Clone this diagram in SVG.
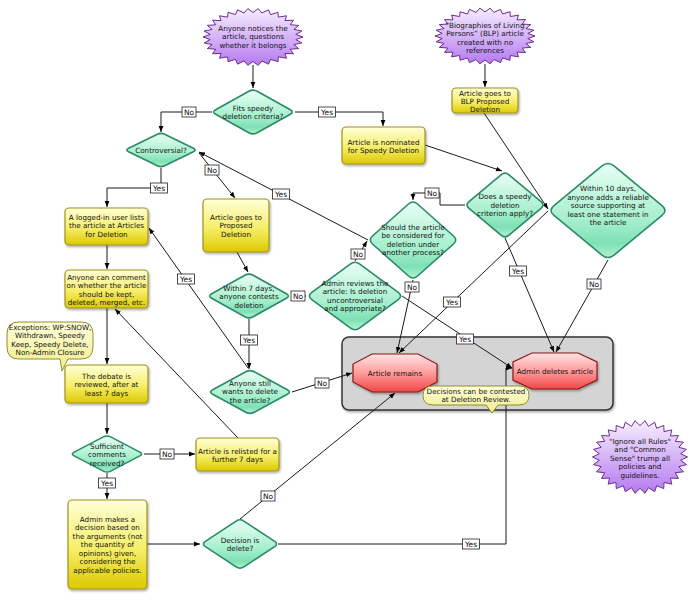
<svg xmlns="http://www.w3.org/2000/svg" xmlns:xlink="http://www.w3.org/1999/xlink" width="697" height="600" viewBox="0 0 697 600">
<style>
text{font-family:"DejaVu Sans","Liberation Sans",sans-serif;font-size:7.2px;fill:#111;text-anchor:middle}
.lbl text{font-size:7.5px}
.lbl rect{fill:#fff;stroke:#222;stroke-width:0.8}
.con path{fill:none;stroke:#1a1a1a;stroke-width:1}
.arr{marker-end:url(#arr)}
.box{fill:url(#gBox);stroke:#9d9420;stroke-width:1.2;filter:url(#sh)}
.dia{fill:url(#gDia);stroke:#2a8a66;stroke-width:1.6}
.star{fill:url(#gStar);stroke:#6a2d91;stroke-width:1}
.oct{fill:url(#gOct);stroke:#8b1a1a;stroke-width:1.2;filter:url(#sh)}
.bub{fill:url(#gBub);stroke:#8f8f2b;stroke-width:1}
</style>
<defs>
<linearGradient id="gBox" x1="0" y1="0" x2="0" y2="1"><stop offset="0" stop-color="#ffffd8"/><stop offset="0.55" stop-color="#f6ee6a"/><stop offset="1" stop-color="#ddc900"/></linearGradient>
<linearGradient id="gDia" x1="0" y1="0" x2="0" y2="1"><stop offset="0" stop-color="#e8fff4"/><stop offset="0.6" stop-color="#a6efcd"/><stop offset="0.85" stop-color="#7fe0b5"/><stop offset="1" stop-color="#b4f2d6"/></linearGradient>
<linearGradient id="gStar" x1="0" y1="0" x2="0" y2="1"><stop offset="0" stop-color="#f6edff"/><stop offset="1" stop-color="#b57af0"/></linearGradient>
<linearGradient id="gOct" x1="0" y1="0" x2="0" y2="1"><stop offset="0" stop-color="#ffe4e4"/><stop offset="0.5" stop-color="#ff9c9c"/><stop offset="1" stop-color="#f04646"/></linearGradient>
<linearGradient id="gBub" x1="0" y1="0" x2="0" y2="1"><stop offset="0" stop-color="#ffffdc"/><stop offset="1" stop-color="#f0ec8c"/></linearGradient>
<filter id="sh" x="-10%" y="-10%" width="130%" height="140%"><feDropShadow dx="1" dy="1.5" stdDeviation="1" flood-color="#000" flood-opacity="0.35"/></filter>
<marker id="arr" viewBox="0 0 10 10" refX="10" refY="5" markerWidth="6" markerHeight="6" orient="auto" markerUnits="userSpaceOnUse"><path d="M0,1 L10,5 L0,9 z" fill="#000"/></marker>
<path id="dia" vector-effect="non-scaling-stroke" d="M-0.1,-0.9 Q0,-1 0.1,-0.9 L0.9,-0.1 Q1,0 0.9,0.1 L0.1,0.9 Q0,1 -0.1,0.9 L-0.9,0.1 Q-1,0 -0.9,-0.1 Z"/>
<polygon id="star" vector-effect="non-scaling-stroke" points="50,0 42.8,4.5 48.9,10.4 40.9,13.3 45.7,20.3 37.2,21.5 40.5,29.4 32,28.8 33.5,37.2 25.3,34.8 25,43.3 17.5,39.3 15.5,47.6 8.9,42.1 5.2,49.7 0,43 -5.2,49.7 -8.9,42.1 -15.5,47.6 -17.5,39.3 -25,43.3 -25.3,34.8 -33.5,37.2 -32,28.8 -40.5,29.4 -37.2,21.5 -45.7,20.3 -40.9,13.3 -48.9,10.4 -42.8,4.5 -50,0 -42.8,-4.5 -48.9,-10.4 -40.9,-13.3 -45.7,-20.3 -37.2,-21.5 -40.5,-29.4 -32,-28.8 -33.5,-37.2 -25.3,-34.8 -25,-43.3 -17.5,-39.3 -15.5,-47.6 -8.9,-42.1 -5.2,-49.7 0,-43 5.2,-49.7 8.9,-42.1 15.5,-47.6 17.5,-39.3 25,-43.3 25.3,-34.8 33.5,-37.2 32,-28.8 40.5,-29.4 37.2,-21.5 45.7,-20.3 40.9,-13.3 48.9,-10.4 42.8,-4.5"/>
</defs>
<rect width="697" height="600" fill="#fff"/>

<g id="outcome-area">
<rect x="342" y="337" width="271" height="73" rx="7" fill="#d4d4d4" stroke="#333" stroke-width="1.5" filter="url(#sh)"/>
</g>

<g id="connectors" class="con">
<path class="arr" d="M253,65 L253,88"/>
<path class="arr" d="M212,112 L161,112 L161,132"/>
<path class="arr" d="M295,112 L383,112 L383,126"/>
<path class="arr" d="M161,168 L161,188 L107,188 L107,207"/>
<path class="arr" d="M199,153 L235,198"/>
<path class="arr" d="M368,240 L199,152"/>
<path class="arr" d="M107,245 L107,269"/>
<path class="arr" d="M107,308 L107,364"/>
<path class="arr" d="M107,403 L107,434"/>
<path class="arr" d="M144,454 L195,454"/>
<path class="arr" d="M238,438 L115,309"/>
<path class="arr" d="M107,473 L107,499"/>
<path class="arr" d="M147,544 L200,544"/>
<path class="arr" d="M240,519 L395,393"/>
<path class="arr" d="M278,544 L506,544 L506,368 L512,368"/>
<path class="arr" d="M237,252 L248,272"/>
<path class="arr" d="M291,296 L306,296"/>
<path class="arr" d="M249,319 L249,369"/>
<path class="arr" d="M248,368 L149,228"/>
<path class="arr" d="M292,392 L352,373"/>
<path class="arr" d="M355,261 L367,241"/>
<path class="arr" d="M402,296 L512,368"/>
<path class="arr" d="M413,280 L397,353"/>
<path class="arr" d="M465,205 L440,205 L440,193 L413,193 L413,200"/>
<path class="arr" d="M485,64 L485,87"/>
<path class="arr" d="M484,113 L548,209"/>
<path class="arr" d="M425,145 L502,171"/>
<path class="arr" d="M505,238 L554,352"/>
<path class="arr" d="M608,260 L556,352"/>
<path class="arr" d="M548,211 L399,353"/>
<g class="lbl">
<rect x="182" y="107" width="14" height="10"/><text x="189" y="114.7">No</text>
<rect x="318.5" y="107" width="17" height="10"/><text x="327" y="114.7">Yes</text>
<rect x="150.5" y="183" width="17" height="10"/><text x="159" y="190.7">Yes</text>
<rect x="205" y="165" width="14" height="10"/><text x="212" y="172.7">No</text>
<rect x="272.5" y="189" width="17" height="10"/><text x="281" y="196.7">Yes</text>
<rect x="160" y="449" width="14" height="10"/><text x="167" y="456.7">No</text>
<rect x="98.5" y="478" width="17" height="10"/><text x="107" y="485.7">Yes</text>
<rect x="261" y="491" width="14" height="10"/><text x="268" y="498.7">No</text>
<rect x="462.5" y="539" width="17" height="10"/><text x="471" y="546.7">Yes</text>
<rect x="291" y="291" width="14" height="10"/><text x="298" y="298.7">No</text>
<rect x="240.5" y="335" width="17" height="10"/><text x="249" y="342.7">Yes</text>
<rect x="177.5" y="274" width="17" height="10"/><text x="186" y="281.7">Yes</text>
<rect x="315" y="378" width="14" height="10"/><text x="322" y="385.7">No</text>
<rect x="351" y="249" width="14" height="10"/><text x="358" y="256.7">No</text>
<rect x="456.5" y="334" width="17" height="10"/><text x="465" y="341.7">Yes</text>
<rect x="405" y="282" width="14" height="10"/><text x="412" y="289.7">No</text>
<rect x="425" y="188" width="14" height="10"/><text x="432" y="195.7">No</text>
<rect x="509.5" y="266" width="17" height="10"/><text x="518" y="273.7">Yes</text>
<rect x="587" y="279" width="14" height="10"/><text x="594" y="286.7">No</text>
<rect x="443.5" y="297" width="17" height="10"/><text x="452" y="304.7">Yes</text>
</g>
</g>

<g id="n-notice"><use href="#star" class="star" transform="translate(253,37) scale(1,0.57)"/><text><tspan x="253" y="30.5">Anyone notices the</tspan><tspan x="253" y="39">article, questions</tspan><tspan x="253" y="47.5">whether it belongs</tspan></text></g>
<g id="n-blp"><use href="#star" class="star" transform="translate(485,36) scale(1,0.56)"/><text><tspan x="485" y="27.5">“Biographies of Living</tspan><tspan x="485" y="36">Persons” (BLP) article</tspan><tspan x="485" y="44.5">created with no</tspan><tspan x="485" y="53">references</tspan></text></g>
<g id="n-iar"><use href="#star" class="star" transform="translate(640,457) scale(0.95,0.73)"/><text><tspan x="640" y="443.5">"Ignore all Rules"</tspan><tspan x="640" y="452">and "Common</tspan><tspan x="640" y="460.5">Sense" trump all</tspan><tspan x="640" y="469">policies and</tspan><tspan x="640" y="477.5">guidelines.</tspan></text></g>

<g id="n-fits"><use href="#dia" class="dia" transform="translate(253,112) scale(41.5,23)"/><text><tspan x="253" y="110.5">Fits speedy</tspan><tspan x="253" y="119">deletion criteria?</tspan></text></g>
<g id="n-controversial"><use href="#dia" class="dia" transform="translate(161,150) scale(36,17.5)"/><text x="161" y="152.5">Controversial?</text></g>
<g id="n-within7"><use href="#dia" class="dia" transform="translate(249,296) scale(41.5,23)"/><text><tspan x="249" y="290.5">Within 7 days,</tspan><tspan x="249" y="299">anyone contests</tspan><tspan x="249" y="307.5">deletion</tspan></text></g>
<g id="n-adminreview"><use href="#dia" class="dia" transform="translate(355,296) scale(48,35.5)"/><text><tspan x="355" y="285.5">Admin reviews the</tspan><tspan x="355" y="294">article: Is deletion</tspan><tspan x="355" y="302.5">uncontroversial</tspan><tspan x="355" y="311">and appropriate?</tspan></text></g>
<g id="n-should"><use href="#dia" class="dia" transform="translate(413,240) scale(45,40)"/><text><tspan x="413" y="229.5">Should the article</tspan><tspan x="413" y="238">be considered for</tspan><tspan x="413" y="246.5">deletion under</tspan><tspan x="413" y="255">another process?</tspan></text></g>
<g id="n-doesspeedy"><use href="#dia" class="dia" transform="translate(505,205) scale(40,33.5)"/><text><tspan x="505" y="199">Does a speedy</tspan><tspan x="505" y="207.5">deletion</tspan><tspan x="505" y="216">criterion apply?</tspan></text></g>
<g id="n-within10"><use href="#dia" class="dia" transform="translate(608,210.5) scale(60,49.5)"/><text><tspan x="608" y="191">Within 10 days,</tspan><tspan x="608" y="199.5">anyone adds a reliable</tspan><tspan x="608" y="208">source supporting at</tspan><tspan x="608" y="216.5">least one statement in</tspan><tspan x="608" y="225">the article</tspan></text></g>
<g id="n-stillwants"><use href="#dia" class="dia" transform="translate(250,392) scale(41.5,22.5)"/><text><tspan x="250" y="385.5">Anyone still</tspan><tspan x="250" y="394">wants to delete</tspan><tspan x="250" y="402.5">the article?</tspan></text></g>
<g id="n-sufficient"><use href="#dia" class="dia" transform="translate(107,454) scale(36.5,19)"/><text><tspan x="107" y="448.5">Sufficient</tspan><tspan x="107" y="457">comments</tspan><tspan x="107" y="465.5">received?</tspan></text></g>
<g id="n-decision"><use href="#dia" class="dia" transform="translate(240,544) scale(38.5,25.5)"/><text><tspan x="240" y="542.5">Decision is</tspan><tspan x="240" y="551">delete?</tspan></text></g>

<g id="n-nominated"><rect class="box" x="342" y="127" width="83" height="37" rx="4"/><text><tspan x="383.5" y="144.5">Article is nominated</tspan><tspan x="383.5" y="153">for Speedy Deletion</tspan></text></g>
<g id="n-blpprod"><rect class="box" x="452" y="88" width="66" height="25" rx="4"/><text><tspan x="485" y="95.5">Article goes to</tspan><tspan x="485" y="104">BLP Proposed</tspan><tspan x="485" y="112">Deletion</tspan></text></g>
<g id="n-afd"><rect class="box" x="65" y="208" width="83" height="37" rx="4"/><text><tspan x="106.5" y="219.5">A logged-in user lists</tspan><tspan x="106.5" y="228">the article at Articles</tspan><tspan x="106.5" y="236.5">for Deletion</tspan></text></g>
<g id="n-prod"><rect class="box" x="203" y="199" width="66" height="53" rx="4"/><text><tspan x="236" y="219.5">Article goes to</tspan><tspan x="236" y="228">Proposed</tspan><tspan x="236" y="236.5">Deletion</tspan></text></g>
<g id="n-comment"><rect class="box" x="65" y="270" width="83" height="38" rx="4"/><text><tspan x="106.5" y="279.5">Anyone can comment</tspan><tspan x="106.5" y="288">on whether the article</tspan><tspan x="106.5" y="296.5">should be kept,</tspan><tspan x="106.5" y="305">deleted, merged, etc.</tspan></text></g>
<g id="n-debate"><rect class="box" x="65" y="365" width="83" height="38" rx="4"/><text><tspan x="106.5" y="378.5">The debate is</tspan><tspan x="106.5" y="387">reviewed, after at</tspan><tspan x="106.5" y="395.5">least 7 days</tspan></text></g>
<g id="n-relisted"><rect class="box" x="196" y="438" width="83" height="33" rx="4"/><text><tspan x="237.5" y="453.5">Article is relisted for a</tspan><tspan x="237.5" y="462">further 7 days</tspan></text></g>
<g id="n-adminmakes"><rect class="box" x="68" y="500" width="79" height="89" rx="4"/><text><tspan x="107.5" y="521.5">Admin makes a</tspan><tspan x="107.5" y="530">decision based on</tspan><tspan x="107.5" y="538.5">the arguments (not</tspan><tspan x="107.5" y="547">the quantity of</tspan><tspan x="107.5" y="555.5">opinions) given,</tspan><tspan x="107.5" y="564">considering the</tspan><tspan x="107.5" y="572.5">applicable policies.</tspan></text></g>

<g id="n-exceptions"><path class="bub" d="M19,322 L81,322 Q93,322 93,334 L93,347 Q93,359 81,359 L68,359 L62,371 L60,359 L19,359 Q7,359 7,347 L7,334 Q7,322 19,322 Z"/><text><tspan x="50" y="329.5">Exceptions: WP:SNOW,</tspan><tspan x="50" y="338">Withdrawn, Speedy</tspan><tspan x="50" y="346.5">Keep, Speedy Delete,</tspan><tspan x="50" y="355">Non-Admin Closure</tspan></text></g>

<g id="n-remains"><polygon class="oct" points="372,354 418,354 437,364 437,382 418,392 372,392 353,382 353,364"/><text x="395" y="375.5">Article remains</text></g>
<g id="n-deletes"><polygon class="oct" points="532,353 578,353 597,362 597,380 578,389 532,389 513,380 513,362"/><text x="555" y="373.5">Admin deletes article</text></g>
<g id="n-review"><path class="bub" d="M433,386 L519,386 Q529,386 529,395.5 Q529,405 519,405 L498,405 L492,413 L486,405 L433,405 Q423,405 423,395.5 Q423,386 433,386 Z"/><text><tspan x="476" y="393.5">Decisions can be contested</tspan><tspan x="476" y="401.5">at Deletion Review.</tspan></text></g>
</svg>
